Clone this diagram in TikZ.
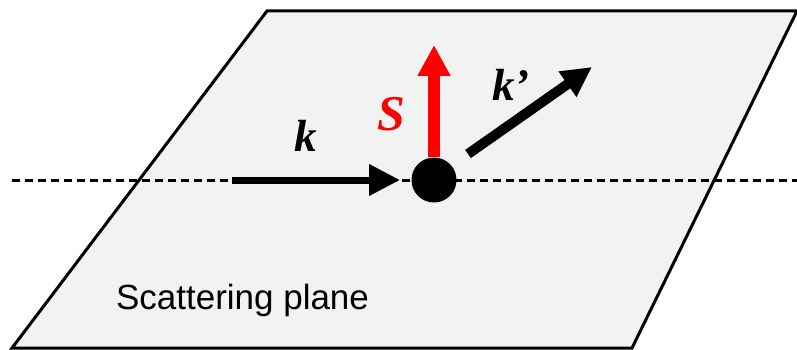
\documentclass[tikz,border=0pt]{standalone}
\usepackage{fontspec}
\setmainfont{Liberation Serif}
\setsansfont{Liberation Sans}
\usetikzlibrary{arrows.meta}
\definecolor{planegray}{HTML}{F2F2F2}
\definecolor{sred}{HTML}{FF0000}
\tikzset{
  plane/.style={fill=planegray, draw=black, line width=3pt, line join=miter},
  axis/.style={draw=black, line width=3pt, dash pattern=on 8pt off 5pt},
  karrow/.style={draw=black, line width=7pt, -{Triangle[length=31pt,width=30pt]}},
  kparrow/.style={draw=black, line width=10pt, -{Triangle[length=30pt,width=29pt]}},
  sarrow/.style={draw=sred, line width=12pt, -{Triangle[length=31pt,width=31pt]}},
  dot/.style={circle, fill=black, minimum size=45pt, inner sep=0pt},
  veclabel/.style={font=\fontsize{45}{50}\selectfont\bfseries\itshape, inner sep=0pt, anchor=base},
  planelabel/.style={font=\sffamily\fontsize{35}{40}\selectfont, inner sep=0pt, anchor=base},
}
\begin{document}
\begin{tikzpicture}[x=1pt,y=-1pt]
\useasboundingbox (0,0) rectangle (797,350);
\path[plane] (12,348) -- (267,11) -- (797,11) -- (632,348) -- cycle;
\coordinate (axl) at (12,180);
\coordinate (axr) at (797,180);
\draw[axis] (axl) -- (axr);
\node[dot] (c) at (434,180) {};
\coordinate (kin) at (232,180);
\coordinate (ktip) at (400,180);
\draw[karrow] (kin) -- (ktip);
\coordinate (stip) at (434,45);
\draw[sarrow] (c.north) -- (stip);
\coordinate (kpin) at (468,154);
\coordinate (kptip) at (592,67);
\draw[kparrow] (kpin) -- (kptip);
\node[veclabel] (klab) at (306,151) {k};
\node[veclabel, text=sred, font=\fontsize{50}{55}\selectfont\bfseries\itshape] (slab) at (391,130) {S};
\node[veclabel, anchor=base west] (kplab) at (492,101) {k’};
\node[planelabel] (plab) at (242.5,309) {Scattering plane};
\end{tikzpicture}
\end{document}
